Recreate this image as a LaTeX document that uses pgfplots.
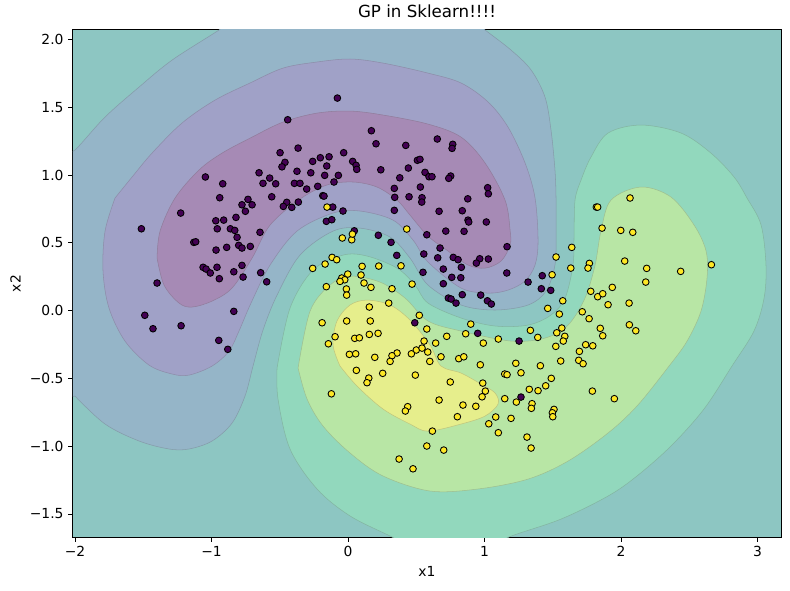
\documentclass[border=0pt]{standalone}
\usepackage{fontspec}
\setmainfont{DejaVu Sans}
\usepackage{pgfplots}
\pgfplotsset{compat=1.18}
\definecolor{cteal}{HTML}{8DC6C2}
\definecolor{cblue}{HTML}{95B5C8}
\definecolor{clav}{HTML}{A0A1C7}
\definecolor{cpur}{HTML}{A68AB5}
\definecolor{cmint}{HTML}{92D8BD}
\definecolor{clgreen}{HTML}{B8E6A5}
\definecolor{cyel}{HTML}{E6EE8C}
\definecolor{ptpur}{HTML}{440154}
\definecolor{ptyel}{HTML}{FDE725}
\begin{document}
\begin{tikzpicture}
\useasboundingbox (-54.75pt,-39.75pt) rectangle (537.75pt,402.75pt);
\begin{axis}[
  at={(0,0)}, anchor=south west,
  width=531pt, height=380.25pt, scale only axis,
  xmin=-2.015, xmax=3.172, ymin=-1.670, ymax=2.069,
  xtick={-2,-1,0,1,2,3}, xticklabels={−2,−1,0,1,2,3},
  ytick={-1.5,-1,-0.5,0,0.5,1,1.5,2},
  yticklabels={−1.5,−1.0,−0.5,0.0,0.5,1.0,1.5,2.0},
  tick align=outside, tick pos=left, major tick length=3.6pt,
  tick style={black, line width=0.6pt},
  axis line style={line width=0.75pt},
  tick label style={font=\fontsize{10.4pt}{12pt}\selectfont},
  label style={font=\fontsize{10.4pt}{12pt}\selectfont},
  title style={font=\fontsize{12.5pt}{15pt}\selectfont},
  title={GP in Sklearn!!!!},
  xlabel={x1}, ylabel={x2},
  axis background/.style={fill=cteal},
]
% blue-grey region
\addplot[fill=cblue, draw=cblue!80!black!90, line width=0.4pt, smooth, tension=0.55] coordinates {
(-2.000,-0.631) (-2.147,-0.549) (-2.220,0.077) (-2.147,1.073) (-2.000,1.184)
(-1.780,1.427) (-1.531,1.648) (-1.289,1.847) (-0.945,2.069) (-0.828,2.157)
(0.015,2.216) (0.894,2.157) (1.004,2.069) (1.194,1.921) (1.341,1.774)
(1.443,1.574) (1.487,1.331) (1.516,1.036) (1.524,0.815) (1.524,0.557)
(1.516,0.336) (1.451,0.144) (1.319,0.041) (1.077,0.004) (0.828,0.041)
(0.586,0.188) (0.454,0.387) (0.308,0.542) (0.088,0.608) (-0.110,0.586)
(-0.352,0.409) (-0.520,0.114) (-0.623,-0.144) (-0.696,-0.409) (-0.755,-0.631)
(-0.850,-0.830) (-0.996,-0.962) (-1.165,-1.021) (-1.311,-1.021) (-1.531,-0.962)
(-1.780,-0.837) (-2.000,-0.631)} -- cycle;
% lavender region
\addplot[fill=clav, draw=clav!80!black!90, line width=0.4pt, smooth, tension=0.55] coordinates {
(-1.707,0.830) (-1.780,0.586) (-1.795,0.291) (-1.751,0.018) (-1.634,-0.225)
(-1.458,-0.402) (-1.289,-0.468) (-1.165,-0.476) (-0.996,-0.409) (-0.872,-0.299)
(-0.799,-0.151) (-0.711,0.055) (-0.571,0.336) (-0.374,0.586) (-0.110,0.719)
(0.088,0.734) (0.330,0.667) (0.476,0.520) (0.586,0.358) (0.828,0.166)
(1.026,0.129) (1.172,0.151) (1.297,0.218) (1.370,0.336) (1.392,0.513)
(1.370,0.830) (1.297,1.088) (1.172,1.353) (1.026,1.538) (0.828,1.678)
(0.586,1.751) (0.256,1.825) (0.015,1.855) (-0.227,1.833) (-0.476,1.788)
(-0.718,1.678) (-0.974,1.552) (-1.216,1.383) (-1.436,1.161) (-1.582,0.985)
(-1.707,0.830)} -- cycle;
% purple region
\addplot[fill=cpur, draw=cpur!80!black!90, line width=0.4pt, smooth, tension=0.55] coordinates {
(-1.399,0.387) (-1.377,0.586) (-1.267,0.830) (-1.092,1.036) (-0.923,1.161)
(-0.703,1.279) (-0.476,1.390) (-0.227,1.456) (0.015,1.471) (0.256,1.442)
(0.586,1.375) (0.828,1.279) (1.004,1.088) (1.150,0.815) (1.187,0.594)
(1.187,0.483) (1.121,0.365) (1.004,0.313) (0.879,0.336) (0.733,0.439)
(0.586,0.549) (0.454,0.704) (0.359,0.815) (0.212,0.911) (0.037,0.948)
(-0.154,0.926) (-0.352,0.822) (-0.571,0.631) (-0.703,0.387) (-0.850,0.166)
(-0.996,0.070) (-1.143,0.026) (-1.238,0.055) (-1.348,0.188) (-1.399,0.387)} -- cycle;
% mint region
\addplot[fill=cmint, draw=cmint!80!black!90, line width=0.4pt, smooth, tension=0.55] coordinates {
(-0.520,-0.424) (-0.513,-0.653) (-0.425,-1.021) (-0.227,-1.316) (0.015,-1.515)
(0.322,-1.670) (0.527,-1.781) (0.967,-1.781) (1.179,-1.670) (1.560,-1.538)
(1.905,-1.368) (2.117,-1.220) (2.366,-0.999) (2.608,-0.726) (2.813,-0.409)
(2.974,-0.151) (3.048,0.092) (3.062,0.336) (3.026,0.631) (2.923,0.830)
(2.828,0.985) (2.659,1.161) (2.440,1.309) (2.147,1.368) (1.905,1.309)
(1.780,1.132) (1.707,0.962) (1.663,0.815) (1.656,0.557) (1.648,0.336)
(1.590,0.092) (1.487,-0.033) (1.319,-0.107) (1.077,-0.114) (0.828,-0.055)
(0.586,0.055) (0.491,0.188) (0.359,0.313) (0.139,0.402) (-0.037,0.409)
(-0.256,0.299) (-0.425,0.018) (-0.520,-0.424)} -- cycle;
% light green region
\addplot[fill=clgreen, draw=clgreen!80!black!90, line width=0.4pt, smooth, tension=0.55] coordinates {
(-0.366,-0.424) (-0.300,-0.653) (-0.183,-0.852) (0.015,-1.051) (0.256,-1.220)
(0.601,-1.331) (0.952,-1.316) (1.319,-1.243) (1.612,-1.110) (1.905,-0.903)
(2.117,-0.704) (2.352,-0.409) (2.484,-0.225) (2.586,-0.004) (2.630,0.240)
(2.623,0.439) (2.535,0.631) (2.366,0.837) (2.147,0.911) (1.927,0.815)
(1.853,0.586) (1.810,0.336) (1.736,0.092) (1.612,-0.107) (1.443,-0.203)
(1.194,-0.225) (0.828,-0.151) (0.586,-0.077) (0.418,0.092) (0.234,0.210)
(0.015,0.254) (-0.132,0.188) (-0.278,-0.004) (-0.366,-0.424)} -- cycle;
% yellow region
\addplot[fill=cyel, draw=cyel!80!black!90, line width=0.4pt, smooth, tension=0.55] coordinates {
(-0.059,-0.409) (0.066,-0.557) (0.256,-0.726) (0.454,-0.837) (0.586,-0.889)
(0.828,-0.837) (1.004,-0.778) (1.099,-0.690) (1.077,-0.608) (0.974,-0.542)
(0.828,-0.461) (0.681,-0.409) (0.601,-0.254) (0.454,-0.070) (0.308,0.041)
(0.139,0.077) (0.015,0.041) (-0.081,-0.077) (-0.110,-0.254) (-0.059,-0.409)} -- cycle;
% class 0 points
\addplot[only marks, mark=*, mark size=2.5pt, mark options={fill=ptpur, draw=black, line width=0.65pt}] coordinates {
(-1.045,0.985) (-0.918,0.935) (-0.940,0.832) (-0.733,0.820) (-0.078,1.567)
(-0.442,1.407) (0.171,1.326) (0.205,1.230) (0.423,1.218) (-0.366,1.198)
(-0.498,1.164) (-0.032,1.164) (-0.139,1.134) (-0.203,1.127) (-0.462,1.093)
(-0.259,1.100) (-0.484,1.060) (-0.156,1.066) (0.034,1.100) (0.059,1.071)
(0.064,1.041) (0.240,1.038) (0.508,1.108) (0.527,1.115) (0.442,1.051)
(0.564,1.019) (0.593,0.987) (-0.652,1.016) (-0.374,1.027) (-0.273,1.016)
(-0.574,0.977) (-0.171,0.997) (-0.071,0.997) (0.379,0.979) (-0.623,0.938)
(-0.530,0.935) (-0.393,0.938) (-0.352,0.938) (-0.103,0.948) (-0.303,0.896)
(-0.222,0.916) (0.339,0.901) (0.530,0.911) (-0.559,0.839) (-0.185,0.847)
(-0.176,0.844) (0.342,0.835) (0.447,0.839) (0.542,0.832) (-0.449,0.798)
(-0.412,0.761) (-0.364,0.800) (-0.474,0.768) (0.654,1.265) (0.767,1.226)
(0.762,1.196) (0.615,0.987) (0.752,0.992) (0.738,0.975) (1.023,0.906)
(1.028,0.861) (0.877,0.824) (-0.777,0.780) (-0.703,0.780) (-0.752,0.732)
(-1.226,0.719) (-0.969,0.662) (-0.911,0.667) (-0.821,0.687) (-1.514,0.603)
(-0.958,0.603) (-0.862,0.603) (-0.830,0.591) (-0.813,0.540) (-1.130,0.503)
(-1.116,0.507) (-0.967,0.446) (-0.889,0.466) (-0.801,0.481) (-0.777,0.461)
(-0.716,0.473) (-1.062,0.319) (-1.040,0.306) (-1.009,0.277) (-0.960,0.319)
(-0.943,0.235) (-0.837,0.286) (-0.777,0.333) (-0.769,0.247) (-1.399,0.203)
(-0.837,-0.006) (-1.489,-0.035) (-1.429,-0.134) (-1.223,-0.112) (-0.947,-0.220)
(-0.881,-0.286) (-0.112,0.763) (-0.037,0.734) (-0.159,0.658) (-0.119,0.670)
(0.046,0.588) (-0.645,0.577) (-0.640,0.279) (-0.596,0.212) (0.339,0.739)
(0.540,0.800) (0.222,0.555) (0.315,0.503) (0.577,0.559) (0.357,0.407)
(0.555,0.417) (0.549,0.282) (0.489,-0.090) (0.667,0.732) (0.837,0.736)
(0.879,0.667) (0.884,0.653) (1.013,0.653) (0.716,0.586) (0.850,0.584)
(1.165,0.471) (0.674,0.461) (0.657,0.389) (0.771,0.392) (0.806,0.375)
(0.965,0.382) (1.028,0.380) (0.940,0.350) (0.830,0.319) (0.698,0.306)
(0.760,0.245) (0.826,0.242) (1.163,0.277) (1.319,0.210) (1.423,0.257)
(1.416,0.161) (1.485,0.149) (0.698,0.198) (0.837,0.117) (0.972,0.114)
(0.735,0.092) (0.755,0.085) (0.791,0.055) (1.021,0.072) (1.050,0.048)
(0.950,-0.168) (1.253,-0.225) (1.267,-0.638)};
% class 1 points
\addplot[only marks, mark=*, mark size=2.5pt, mark options={fill=ptyel, draw=black, line width=0.65pt}] coordinates {
(-0.154,0.763) (-0.042,0.535) (0.027,0.522) (0.032,0.564) (0.430,0.601)
(-0.117,0.392) (-0.083,0.375) (-0.259,0.311) (-0.168,0.343) (0.103,0.326)
(0.225,0.328) (0.388,0.330) (-0.002,0.269) (-0.046,0.240) (-0.024,0.227)
(-0.059,0.215) (0.095,0.262) (0.117,0.203) (0.168,0.171) (0.322,0.161)
(0.469,0.195) (-0.159,0.176) (-0.012,0.159) (-0.010,0.114) (0.298,0.055)
(0.156,0.026) (0.522,-0.035) (-0.190,-0.090) (-0.010,-0.077) (0.163,-0.077)
(0.577,-0.136) (-0.095,-0.193) (-0.144,-0.245) (0.156,-0.176) (0.220,-0.168)
(0.049,-0.205) (0.083,-0.201) (0.557,-0.225) (0.500,-0.291) (0.542,-0.277)
(0.584,-0.306) (0.464,-0.319) (0.359,-0.313) (0.322,-0.333) (0.308,-0.375)
(0.010,-0.323) (0.056,-0.319) (0.196,-0.345) (1.819,0.763) (1.829,0.763)
(1.861,0.608) (1.639,0.466) (1.524,0.395) (1.632,0.313) (1.768,0.348)
(1.758,0.313) (1.495,0.264) (1.778,0.142) (1.829,0.102) (1.866,0.124)
(1.905,0.043) (1.573,0.072) (1.463,0.016) (1.548,-0.026) (1.716,-0.009)
(1.766,-0.060) (0.899,-0.100) (0.862,-0.171) (0.723,-0.190) (0.642,-0.240)
(0.991,-0.240) (1.101,-0.210) (1.336,-0.146) (1.390,-0.198) (1.529,-0.164)
(1.566,-0.129) (1.588,-0.190) (1.577,-0.225) (1.522,-0.264) (1.741,-0.252)
(1.793,-0.260) (1.848,-0.131) (1.866,-0.186) (1.695,-0.301) (0.681,-0.341)
(0.811,-0.355) (0.848,-0.341) (0.969,-0.400) (1.229,-0.389) (1.409,-0.407)
(1.558,-0.372) (1.690,-0.367) (1.722,-0.392) (0.599,-0.375) (2.066,0.830)
(1.998,0.591) (2.086,0.577) (2.027,0.365) (2.188,0.311) (2.437,0.289)
(2.662,0.338) (2.181,0.210) (1.936,0.171) (2.059,0.055) (2.061,-0.105)
(2.108,-0.149) (0.061,-0.441) (0.152,-0.498) (0.139,-0.532) (0.254,-0.463)
(0.493,-0.476) (-0.122,-0.614) (0.437,-0.709) (0.420,-0.741) (0.577,-0.999)
(0.374,-1.095) (0.476,-1.167) (1.148,-0.468) (1.165,-0.473) (1.267,-0.459)
(1.489,-0.500) (1.448,-0.555) (1.392,-0.591) (1.328,-0.581) (0.749,-0.527)
(0.987,-0.535) (1.006,-0.594) (0.982,-0.636) (0.667,-0.660) (0.842,-0.697)
(0.936,-0.706) (1.148,-0.650) (1.233,-0.675) (1.348,-0.687) (1.343,-0.721)
(1.509,-0.729) (1.497,-0.754) (1.500,-0.783) (1.790,-0.594) (0.801,-0.783)
(1.082,-0.785) (1.194,-0.795) (1.031,-0.835) (0.618,-0.889) (1.101,-0.901)
(1.311,-0.933) (0.701,-1.029) (1.341,-1.014) (1.951,-0.650)};
\end{axis}
\end{tikzpicture}
\end{document}
